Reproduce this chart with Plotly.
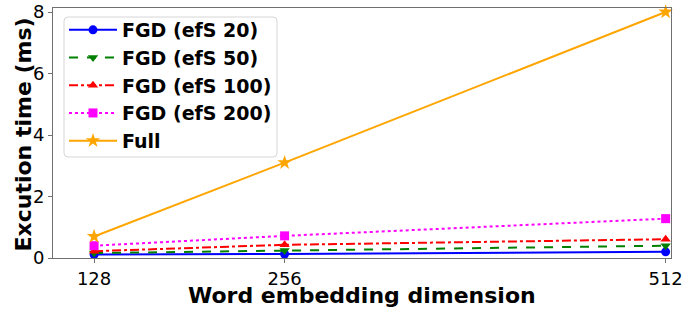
import plotly.graph_objects as go

dims = [128, 256, 512]
fgd20 = [0.11, 0.13, 0.20]
fgd50 = [0.16, 0.24, 0.40]
fgd100 = [0.22, 0.43, 0.61]
fgd200 = [0.40, 0.72, 1.28]
full = [0.70, 3.10, 8.00]

series = [
    ("FGD (efS 20)", fgd20, "blue", "solid", "circle", 9),
    ("FGD (efS 50)", fgd50, "green", "dash", "triangle-down", 9),
    ("FGD (efS 100)", fgd100, "red", "dashdot", "triangle-up", 9),
    ("FGD (efS 200)", fgd200, "magenta", "dot", "square", 9),
    ("Full", full, "orange", "solid", "star", 11),
]

W, H = 683, 312
ML, MR, MT, MB = 53, 12, 8, 54
PW, PH = W - ML - MR, H - MT - MB


def px(x):
    return (x - ML) / PW


def py(y):
    return (H - MB - y) / PH


fig = go.Figure()
for name, ys, color, dash, sym, ms in series:
    fig.add_trace(go.Scatter(
        x=dims, y=ys, name=name, mode="lines+markers",
        line=dict(color=color, width=2, dash=dash),
        marker=dict(symbol=sym, size=ms, color=color),
        cliponaxis=False,
    ))

# rounded legend frame
x0, x1, y0, y1, r = px(64), px(277), py(157), py(17), 4
rx, ry = r / PW, r / PH
path = (f"M{x0+rx},{y0} L{x1-rx},{y0} Q{x1},{y0} {x1},{y0+ry} "
        f"L{x1},{y1-ry} Q{x1},{y1} {x1-rx},{y1} L{x0+rx},{y1} "
        f"Q{x0},{y1} {x0},{y1-ry} L{x0},{y0+ry} Q{x0},{y0} {x0+rx},{y0} Z")
fig.add_shape(type="path", path=path, xref="paper", yref="paper",
              line=dict(color="#d6d6d6", width=1), fillcolor="white", layer="below")

fig.add_annotation(text="<b>Excution time (ms)</b>", xref="paper", yref="paper",
                   x=px(23), y=py(134.5), xanchor="center", yanchor="middle",
                   textangle=-90, showarrow=False, font=dict(size=22))
fig.add_annotation(text="<b>Word embedding dimension</b>", xref="paper", yref="paper",
                   x=px(362), y=py(295), xanchor="center", yanchor="middle",
                   showarrow=False, font=dict(size=22))

fig.update_layout(
    width=W, height=H,
    margin=dict(l=ML, r=MR, t=MT, b=MB),
    plot_bgcolor="white", paper_bgcolor="white",
    font=dict(family="DejaVu Sans", size=18, color="black"),
    showlegend=True,
    legend=dict(
        x=px(64), y=py(11), xanchor="left", yanchor="top",
        bgcolor="rgba(0,0,0,0)", borderwidth=0,
        font=dict(family="DejaVu Sans", size=19, weight="bold"),
        itemwidth=48,
    ),
    xaxis=dict(
        range=[100.4, 515.6], tickvals=dims, ticktext=[str(d) for d in dims],
        showgrid=False, zeroline=False, showline=True, mirror=True,
        linecolor="#707070", linewidth=1, ticks="outside", ticklen=4,
        tickcolor="#707070", tickfont=dict(size=18), automargin=False,
    ),
    yaxis=dict(
        range=[0, 8.13], tickvals=[0, 2, 4, 6, 8],
        showgrid=False, zeroline=False, showline=True, mirror=True,
        linecolor="#707070", linewidth=1, ticks="outside", ticklen=4,
        tickcolor="#707070", tickfont=dict(size=18), automargin=False,
    ),
)

fig.write_html(
    "out.html",
    config={"displayModeBar": False},
    post_script="document.body.style.margin='0';document.body.style.overflow='hidden';",
)
